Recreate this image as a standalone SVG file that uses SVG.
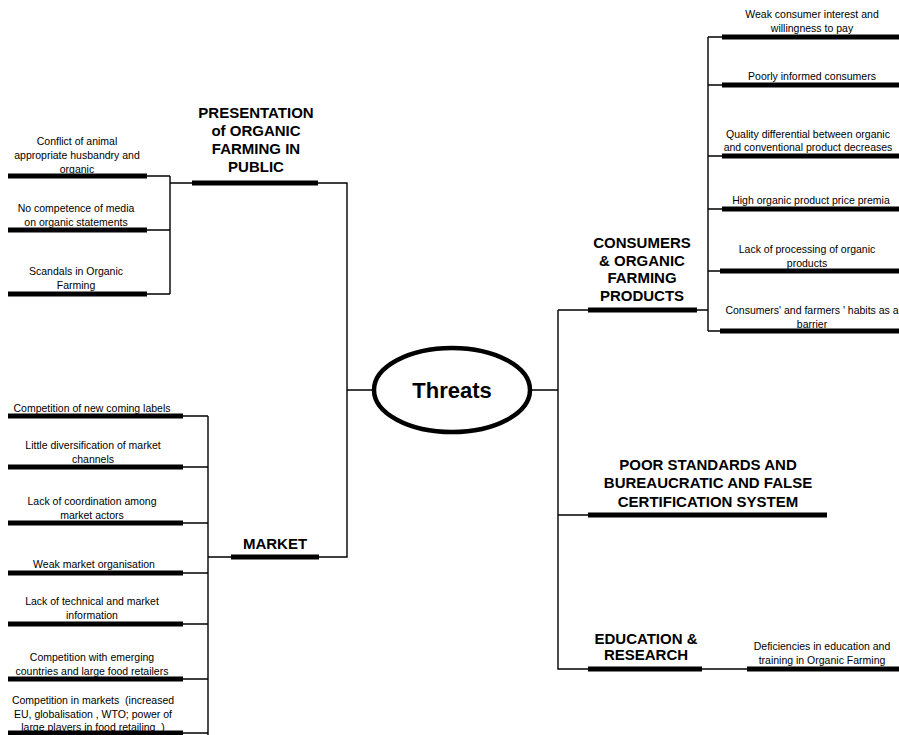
<svg xmlns="http://www.w3.org/2000/svg" width="899" height="735" viewBox="0 0 899 735">
<style>
.bar{stroke:#000;stroke-width:5;fill:none}
.ln{stroke:#000;stroke-width:1.4;fill:none}
.t{font-family:"Liberation Sans",Arial,sans-serif;font-size:10.5px;fill:#000;text-anchor:middle;white-space:pre}
.h{font-family:"Liberation Sans",Arial,sans-serif;font-size:15px;font-weight:bold;fill:#000;text-anchor:middle}
</style>
<rect width="899" height="735" fill="#fff"/>
<g id="connectors">
<path class="ln" d="M147,176 H170 M147,230 H170 M147,294 H170 M170,176 V294 M170,183 H193"/>
<path class="ln" d="M318,183 H347 V557 H319 M347,390 H374"/>
<path class="ln" d="M183,416 H208 M183,467 H208 M183,523 H208 M183,573 H208 M183,624 H208 M183,679 H208 M183,733 H208 M208,416 V735 M208,557 H231"/>
<path class="ln" d="M530,390 H558 M558,310 V669 H588 M558,310 H588 M558,515 H588"/>
<path class="ln" d="M697,310 H708 M708,37 V331 M708,37 H722 M708,85 H722 M708,156 H722 M708,209 H722 M708,271 H720 M708,331 H720"/>
<path class="ln" d="M702,669 H747"/>
</g>
<g id="threats">
<ellipse cx="452" cy="390" rx="78" ry="42" fill="#fff" stroke="#000" stroke-width="4.5"/>
<text x="452" y="398" class="h" style="font-size:22px">Threats</text>
</g>
<g id="presentation">
<line class="bar" x1="192" y1="183" x2="318" y2="183"/>
<text class="h" x="256"><tspan x="256" y="118">PRESENTATION</tspan><tspan x="256" y="136">of ORGANIC</tspan><tspan x="256" y="154">FARMING IN</tspan><tspan x="256" y="172">PUBLIC</tspan></text>
</g>
<g id="p1">
<line class="bar" x1="8" y1="176" x2="147" y2="176"/>
<text class="t"><tspan x="77" y="145">Conflict of animal</tspan><tspan x="77" y="159">appropriate husbandry and</tspan><tspan x="77" y="173">organic</tspan></text>
</g>
<g id="p2">
<line class="bar" x1="8" y1="230" x2="147" y2="230"/>
<text class="t"><tspan x="76" y="212">No competence of media</tspan><tspan x="76" y="226">on organic statements</tspan></text>
</g>
<g id="p3">
<line class="bar" x1="8" y1="294" x2="147" y2="294"/>
<text class="t"><tspan x="76" y="275">Scandals in Organic</tspan><tspan x="76" y="289">Farming</tspan></text>
</g>
<g id="market">
<line class="bar" x1="231" y1="557" x2="319" y2="557"/>
<text class="h" x="275" y="549">MARKET</text>
</g>
<g id="m1">
<line class="bar" x1="8" y1="416" x2="183" y2="416"/>
<text class="t" x="92" y="412">Competition of new coming labels</text>
</g>
<g id="m2">
<line class="bar" x1="8" y1="467" x2="183" y2="467"/>
<text class="t"><tspan x="93" y="449">Little diversification of market</tspan><tspan x="93" y="463">channels</tspan></text>
</g>
<g id="m3">
<line class="bar" x1="8" y1="523" x2="183" y2="523"/>
<text class="t"><tspan x="92" y="505">Lack of coordination among</tspan><tspan x="92" y="519">market actors</tspan></text>
</g>
<g id="m4">
<line class="bar" x1="8" y1="573" x2="183" y2="573"/>
<text class="t" x="94" y="568">Weak market organisation</text>
</g>
<g id="m5">
<line class="bar" x1="8" y1="624" x2="183" y2="624"/>
<text class="t"><tspan x="92" y="605">Lack of technical and market</tspan><tspan x="92" y="619">information</tspan></text>
</g>
<g id="m6">
<line class="bar" x1="8" y1="679" x2="183" y2="679"/>
<text class="t"><tspan x="92" y="661">Competition with emerging</tspan><tspan x="92" y="675">countries and large food retailers</tspan></text>
</g>
<g id="m7">
<line class="bar" x1="8" y1="733" x2="183" y2="733"/>
<text class="t"><tspan x="93" y="704">Competition in markets  (increased</tspan><tspan x="93" y="718">EU, globalisation , WTO; power of</tspan><tspan x="93" y="731">large players in food retailing  )</tspan></text>
</g>
<g id="consumers">
<line class="bar" x1="588" y1="310" x2="697" y2="310"/>
<text class="h"><tspan x="642" y="248">CONSUMERS</tspan><tspan x="642" y="266">&amp; ORGANIC</tspan><tspan x="642" y="283">FARMING</tspan><tspan x="642" y="301">PRODUCTS</tspan></text>
</g>
<g id="c1">
<line class="bar" x1="722" y1="37" x2="899" y2="37"/>
<text class="t"><tspan x="812" y="18">Weak consumer interest and</tspan><tspan x="812" y="32">willingness to pay</tspan></text>
</g>
<g id="c2">
<line class="bar" x1="722" y1="85" x2="899" y2="85"/>
<text class="t" x="812" y="80">Poorly informed consumers</text>
</g>
<g id="c3">
<line class="bar" x1="722" y1="156" x2="899" y2="156"/>
<text class="t"><tspan x="808" y="138">Quality differential between organic</tspan><tspan x="808" y="151">and conventional product decreases</tspan></text>
</g>
<g id="c4">
<line class="bar" x1="722" y1="209" x2="899" y2="209"/>
<text class="t" x="811" y="204">High organic product price premia</text>
</g>
<g id="c5">
<line class="bar" x1="720" y1="271" x2="899" y2="271"/>
<text class="t"><tspan x="807" y="253">Lack of processing of organic</tspan><tspan x="807" y="267">products</tspan></text>
</g>
<g id="c6">
<line class="bar" x1="720" y1="331" x2="899" y2="331"/>
<text class="t"><tspan x="812" y="314">Consumers' and farmers ' habits as a</tspan><tspan x="812" y="328">barrier</tspan></text>
</g>
<g id="standards">
<line class="bar" x1="588" y1="515" x2="827" y2="515"/>
<text class="h"><tspan x="708" y="470">POOR STANDARDS AND</tspan><tspan x="708" y="488">BUREAUCRATIC AND FALSE</tspan><tspan x="708" y="507">CERTIFICATION SYSTEM</tspan></text>
</g>
<g id="education">
<line class="bar" x1="588" y1="669" x2="702" y2="669"/>
<text class="h"><tspan x="646" y="644">EDUCATION &amp;</tspan><tspan x="646" y="660">RESEARCH</tspan></text>
</g>
<g id="e1">
<line class="bar" x1="747" y1="669" x2="899" y2="669"/>
<text class="t"><tspan x="822" y="650">Deficiencies in education and</tspan><tspan x="822" y="664">training in Organic Farming</tspan></text>
</g>
</svg>
